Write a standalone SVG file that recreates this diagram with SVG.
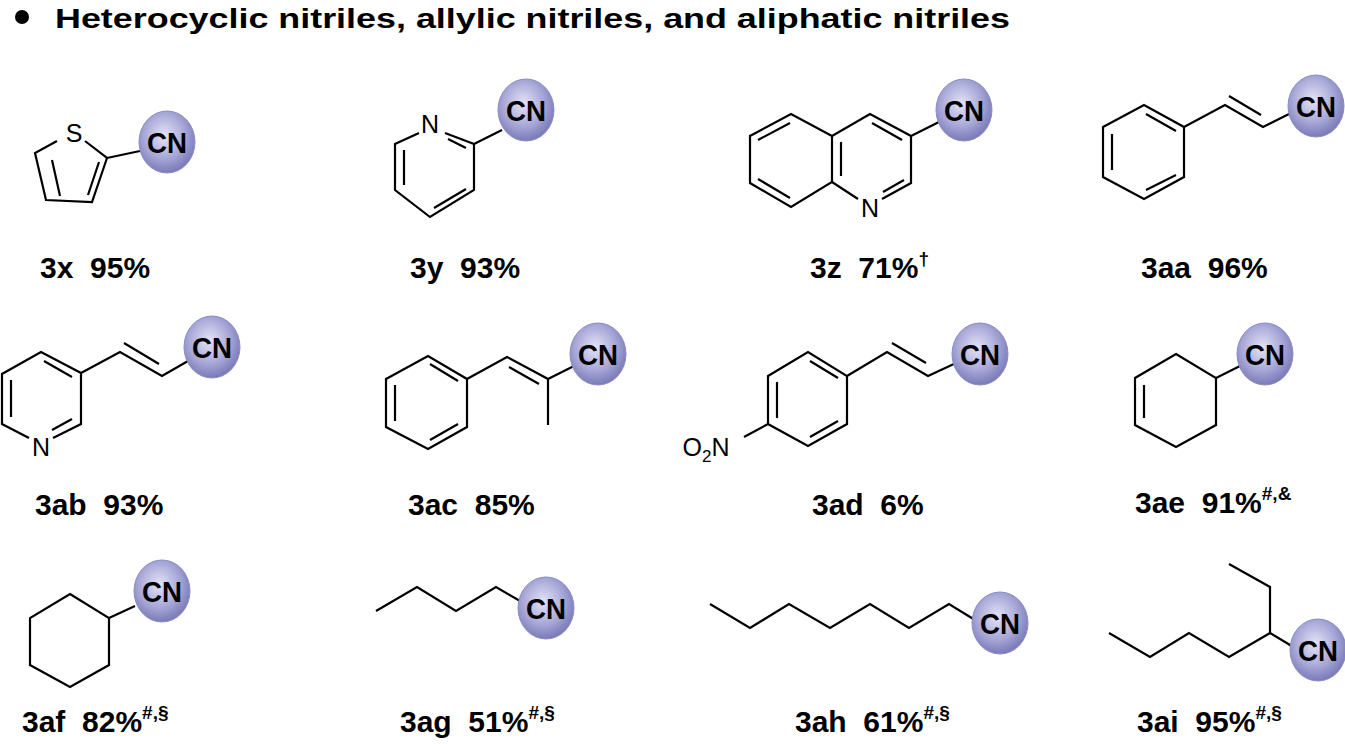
<svg xmlns="http://www.w3.org/2000/svg" width="1345" height="744" viewBox="0 0 1345 744">
<defs>
<radialGradient id="g" cx="45%" cy="40%" r="60%">
<stop offset="0" stop-color="#e4e4f6"/><stop offset="0.6" stop-color="#a8a8d8"/><stop offset="1" stop-color="#7a7ab8"/>
</radialGradient>
</defs>
<style>
.b{fill:none;stroke:#000;stroke-width:2.2;stroke-linejoin:miter;stroke-linecap:butt}
.c{fill:url(#g);stroke:#8c8cc4;stroke-width:1}
.cn{font:bold 29px "Liberation Sans",Arial,sans-serif;text-anchor:middle}
.at{font:25px "Liberation Sans",Arial,sans-serif;text-anchor:middle}
.lb{font:bold 30px "Liberation Sans",Arial,sans-serif}
.sp{font-size:19px}
</style>
<rect width="1345" height="744" fill="#fff"/>
<circle cx="22" cy="17" r="7"/>
<text x="55" y="28" style="font:bold 27px 'Liberation Sans',Arial,sans-serif" textLength="955" lengthAdjust="spacingAndGlyphs">Heterocyclic nitriles, allylic nitriles, and aliphatic nitriles</text>

<g id="m3x">
<path class="b" d="M57,141 L35,153 L46,200 L92,202 L107,158 L85,141 M52,160 L60,196 M88,195 L99,162 M107,158 L140,151"/>
<text class="at" x="74" y="142">S</text>
<ellipse class="c" cx="167" cy="142" rx="28" ry="31"/><text class="cn" x="167" y="153" textLength="40" lengthAdjust="spacingAndGlyphs">CN</text>
<text class="lb" x="40" y="278" xml:space="preserve">3x  95%</text>
</g>

<g id="m3y">
<path class="b" d="M419,133 L395,144 L395,190 L430,217 L474,190 L474,144 L445,133 M404,150 L404,185 M434,208 L466,189 M448,139 L466,148 M474,144 L502,130"/>
<text class="at" x="430" y="133">N</text>
<ellipse class="c" cx="526" cy="110" rx="28" ry="31"/><text class="cn" x="526" y="121" textLength="40" lengthAdjust="spacingAndGlyphs">CN</text>
<text class="lb" x="410" y="278" xml:space="preserve">3y  93%</text>
</g>

<g id="m3z">
<path class="b" d="M832,136 L791,114 L750,136 L750,183 L791,207 L832,182 Z M832,136 L870,114 L911,136 L911,183 L882,199 M858,199 L832,182 M758,140 L790,123 M758,179 L790,198 M841,142 L841,176 M872,123 L902,140 M883,192 L904,180 M911,136 L939,122"/>
<text class="at" x="870" y="217">N</text>
<ellipse class="c" cx="964" cy="110" rx="28" ry="31"/><text class="cn" x="964" y="121" textLength="40" lengthAdjust="spacingAndGlyphs">CN</text>
<text class="lb" x="810" y="278" xml:space="preserve">3z  71%<tspan class="sp" dy="-13">†</tspan></text>
</g>

<g id="m3aa">
<path class="b" d="M1103,127 L1144,105 L1184,127 L1184,177 L1144,199 L1103,177 Z M1112,134 L1112,170 M1146,114 L1176,131 M1146,190 L1176,175 M1184,127 L1225,105 L1263,127 L1289,114 M1229,96 L1261,115"/>
<ellipse class="c" cx="1316" cy="106" rx="28" ry="31"/><text class="cn" x="1316" y="117" textLength="40" lengthAdjust="spacingAndGlyphs">CN</text>
<text class="lb" x="1141" y="278" xml:space="preserve">3aa  96%</text>
</g>

<g id="m3ab">
<path class="b" d="M29,438 L2,424 L2,374 L41,352 L81,373 L81,424 L53,438 M11,380 L11,417 M44,361 L72,377 M52,430 L72,419 M81,373 L120,352 L162,376 L188,361 M124,343 L159,364"/>
<text class="at" x="41" y="456">N</text>
<ellipse class="c" cx="212" cy="347" rx="28" ry="31"/><text class="cn" x="212" y="358" textLength="40" lengthAdjust="spacingAndGlyphs">CN</text>
<text class="lb" x="35" y="515" xml:space="preserve">3ab  93%</text>
</g>

<g id="m3ac">
<path class="b" d="M386,379 L428,356 L467,379 L467,427 L428,449 L386,427 Z M395,385 L395,421 M430,364 L458,381 M430,440 L458,424 M467,379 L507,357 L548,379 L548,425 M548,379 L574,366 M509,367 L539,384"/>
<ellipse class="c" cx="598" cy="354" rx="28" ry="31"/><text class="cn" x="598" y="365" textLength="40" lengthAdjust="spacingAndGlyphs">CN</text>
<text class="lb" x="408" y="515" xml:space="preserve">3ac  85%</text>
</g>

<g id="m3ad">
<path class="b" d="M768,376 L808,352 L847,376 L847,424 L808,446 L768,424 Z M777,382 L777,418 M810,361 L838,378 M810,437 L838,421 M768,424 L744,437 M847,376 L887,352 L928,376 L956,363 M892,343 L926,363"/>
<text class="at" x="706" y="456">O<tspan font-size="17" dy="6">2</tspan><tspan dy="-6">N</tspan></text>
<ellipse class="c" cx="980" cy="354" rx="28" ry="31"/><text class="cn" x="980" y="365" textLength="40" lengthAdjust="spacingAndGlyphs">CN</text>
<text class="lb" x="812" y="515" xml:space="preserve">3ad  6%</text>
</g>

<g id="m3ae">
<path class="b" d="M1176,354 L1216,378 L1216,425 L1176,447 L1135,425 L1135,378 Z M1144,385 L1144,418 M1216,378 L1240,366"/>
<ellipse class="c" cx="1265" cy="354" rx="28" ry="31"/><text class="cn" x="1265" y="365" textLength="40" lengthAdjust="spacingAndGlyphs">CN</text>
<text class="lb" x="1135" y="513" xml:space="preserve">3ae  91%<tspan class="sp" dy="-13">#,&amp;</tspan></text>
</g>

<g id="m3af">
<path class="b" d="M70,594 L109,618 L109,665 L70,687 L30,665 L30,618 Z M109,618 L135,606"/>
<ellipse class="c" cx="162" cy="591" rx="28" ry="31"/><text class="cn" x="162" y="602" textLength="40" lengthAdjust="spacingAndGlyphs">CN</text>
<text class="lb" x="22" y="732" xml:space="preserve">3af  82%<tspan class="sp" dy="-13">#,§</tspan></text>
</g>

<g id="m3ag">
<path class="b" d="M376,611 L417,587 L456,611 L496,587 L520,601"/>
<ellipse class="c" cx="546" cy="608" rx="28" ry="31"/><text class="cn" x="546" y="619" textLength="40" lengthAdjust="spacingAndGlyphs">CN</text>
<text class="lb" x="400" y="732" xml:space="preserve">3ag  51%<tspan class="sp" dy="-13">#,§</tspan></text>
</g>

<g id="m3ah">
<path class="b" d="M710,604 L750,628 L789,604 L830,628 L870,604 L909,628 L949,604 L975,620"/>
<ellipse class="c" cx="1000" cy="623" rx="28" ry="31"/><text class="cn" x="1000" y="634" textLength="40" lengthAdjust="spacingAndGlyphs">CN</text>
<text class="lb" x="795" y="732" xml:space="preserve">3ah  61%<tspan class="sp" dy="-13">#,§</tspan></text>
</g>

<g id="m3ai">
<path class="b" d="M1109,633 L1150,657 L1189,633 L1229,657 L1270,633 L1270,587 L1229,564 M1270,633 L1295,648"/>
<ellipse class="c" cx="1318" cy="650" rx="28" ry="31"/><text class="cn" x="1318" y="661" textLength="40" lengthAdjust="spacingAndGlyphs">CN</text>
<text class="lb" x="1137" y="732" xml:space="preserve">3ai  95%<tspan class="sp" dy="-13">#,§</tspan></text>
</g>
</svg>
